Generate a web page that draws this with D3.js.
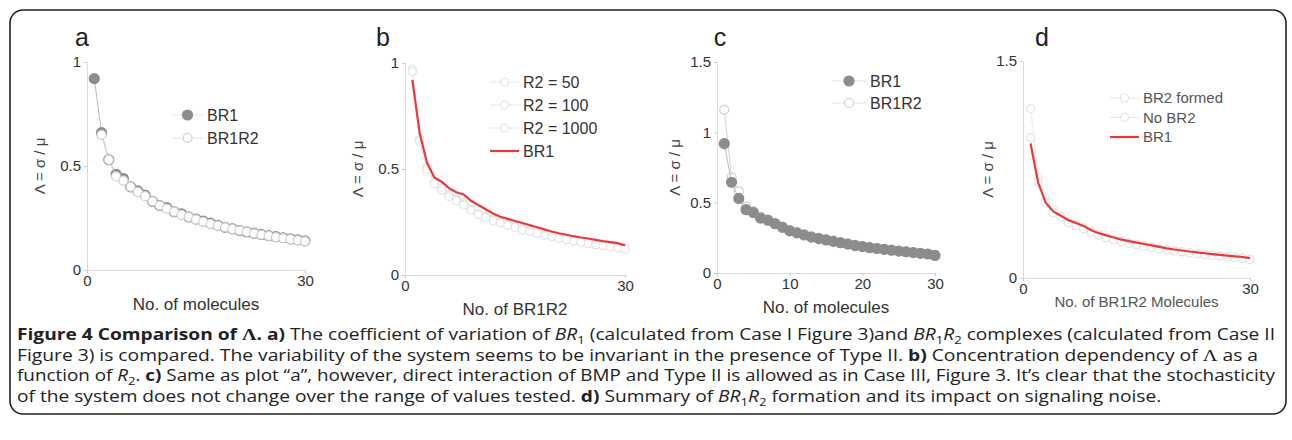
<!DOCTYPE html>
<html lang="en">
<head>
<meta charset="utf-8">
<title>Figure 4 - Comparison of Lambda</title>
<script src="https://d3js.org/d3.v7.min.js"></script>
<style>
  body { margin: 0; background: #fff; }
  .cap { font-family: "Open Sans", "Noto Sans", sans-serif; font-size: 16px; fill: #222; }
</style>
</head>
<body>
<div id="fig"></div>
<script>

// x values (number of molecules)
var counts = [1,2,3,4,5,6,7,8,9,10,11,12,13,14,15,16,17,18,19,20,21,22,23,24,25,26,27,28,29,30];

// panel a
var aBR1   = [0.92,0.66,0.53,0.46,0.44,0.40,0.38,0.36,0.33,0.31,0.30,0.28,0.27,0.255,0.245,0.235,0.225,0.215,0.205,0.198,0.19,0.183,0.177,0.171,0.165,0.16,0.155,0.15,0.145,0.14];
var aBR1R2 = [null,0.65,0.53,0.45,0.43,0.40,0.375,0.355,0.33,0.31,0.295,0.28,0.265,0.255,0.243,0.232,0.222,0.213,0.205,0.197,0.19,0.183,0.176,0.17,0.164,0.158,0.153,0.148,0.143,0.138];

// panel b
var bR2_50   = [0.97,0.64,0.51,0.44,0.41,0.38,0.36,0.34,0.31,0.29,0.28,0.265,0.25,0.24,0.23,0.22,0.21,0.2,0.19,0.183,0.176,0.17,0.163,0.157,0.151,0.145,0.14,0.135,0.13,0.125];
var bR2_100  = [0.96,0.64,0.51,0.44,0.41,0.38,0.355,0.335,0.31,0.29,0.275,0.26,0.248,0.237,0.227,0.217,0.207,0.198,0.19,0.182,0.175,0.168,0.162,0.156,0.15,0.144,0.139,0.134,0.129,0.124];
var bR2_1000 = [0.96,0.63,0.5,0.43,0.4,0.37,0.35,0.33,0.305,0.285,0.27,0.256,0.245,0.234,0.224,0.214,0.205,0.196,0.188,0.18,0.173,0.166,0.16,0.154,0.148,0.143,0.138,0.133,0.128,0.122];
var bBR1     = [0.92,0.67,0.53,0.46,0.44,0.41,0.39,0.38,0.35,0.33,0.31,0.29,0.275,0.265,0.255,0.245,0.235,0.225,0.215,0.205,0.197,0.19,0.183,0.177,0.172,0.166,0.16,0.155,0.15,0.14];

// panel c
var cBR1   = [0.92,0.645,0.53,0.45,0.43,0.39,0.375,0.35,0.325,0.30,0.285,0.27,0.255,0.245,0.235,0.225,0.215,0.205,0.195,0.188,0.18,0.174,0.168,0.162,0.156,0.151,0.145,0.14,0.135,0.125];
var cBR1R2 = [1.16,0.68,0.58,0.47,0.44,0.40,0.38,0.355,0.33,0.305,0.29,0.275,0.26,0.25,0.24,0.23,0.22,0.21,0.2,0.19,0.183,0.177,0.17,0.164,0.158,0.153,0.147,0.142,0.137,0.128];

// panel d
var dBR2formed = [1.17,0.70,0.55,0.47,0.43,0.39,0.37,0.35,0.32,0.30,0.28,0.265,0.255,0.245,0.235,0.225,0.215,0.205,0.197,0.19,0.183,0.176,0.17,0.164,0.158,0.153,0.148,0.143,0.138,0.13];
var dNoBR2     = [0.97,0.66,0.52,0.45,0.42,0.38,0.36,0.34,0.315,0.295,0.28,0.265,0.25,0.24,0.23,0.22,0.21,0.2,0.193,0.186,0.18,0.174,0.168,0.162,0.156,0.151,0.146,0.141,0.136,0.128];
var dBR1       = [0.93,0.66,0.52,0.46,0.43,0.40,0.38,0.36,0.33,0.31,0.295,0.28,0.265,0.255,0.245,0.235,0.225,0.215,0.205,0.197,0.19,0.183,0.177,0.171,0.165,0.16,0.155,0.15,0.145,0.138];

var yLabel = "\u039B = \u03C3 / \u03BC";

var panels = [
  { letter: "a", left: 87, right: 305, top: 62, bottom: 270, yMax: 1, yTicks: [0, 0.5, 1], xTicks: [0, 30],
    xLabel: "No. of molecules", labelX: 40, letterX: 82,
    series: [
      { name: "BR1", values: aBR1, kind: "filled" },
      { name: "BR1R2", values: aBR1R2, kind: "open" }
    ],
    legend: { x: 172, y: 115, step: 23, textX: 207 } },
  { letter: "b", left: 405, right: 625, top: 63, bottom: 275, yMax: 1, yTicks: [0, 0.5, 1], xTicks: [0, 30],
    xLabel: "No. of BR1R2", labelX: 358, letterX: 383,
    series: [
      { name: "R2 = 50", values: bR2_50, kind: "faint" },
      { name: "R2 = 100", values: bR2_100, kind: "faint" },
      { name: "R2 = 1000", values: bR2_1000, kind: "faint" },
      { name: "BR1", values: bBR1, kind: "red" }
    ],
    legend: { x: 490, y: 82, step: 23, textX: 523 } },
  { letter: "c", left: 717, right: 935, top: 62, bottom: 273, yMax: 1.5, yTicks: [0, 0.5, 1, 1.5], xTicks: [0, 10, 20, 30],
    xLabel: "No. of molecules", labelX: 675, letterX: 720,
    series: [
      { name: "BR1R2", values: cBR1R2, kind: "open" },
      { name: "BR1", values: cBR1, kind: "filled" }
    ],
    legend: { x: 832, y: 81, step: 22, textX: 870, order: [1, 0] } },
  { letter: "d", left: 1023, right: 1250, top: 61, bottom: 278, yMax: 1.5, yTicks: [0, 1.5], xTicks: [0, 30],
    xLabel: "No. of BR1R2 Molecules", labelX: 988, letterX: 1042, small: true,
    series: [
      { name: "BR2 formed", values: dBR2formed, kind: "faint" },
      { name: "No BR2", values: dNoBR2, kind: "faint" },
      { name: "BR1", values: dBR1, kind: "red" }
    ],
    legend: { x: 1110, y: 98, step: 19.5, textX: 1143 } }
];

var W = 1292, H = 440;
var svg = d3.select("#fig").append("svg")
    .attr("width", W)
    .attr("height", H)
    .style("font-family", "'Liberation Sans', Arial, sans-serif");

// outer frame
svg.append("rect")
    .attr("x", 10).attr("y", 10)
    .attr("width", 1276).attr("height", 404)
    .attr("rx", 13)
    .attr("fill", "none")
    .attr("stroke", "#222")
    .attr("stroke-width", 1.6);

var styles = {
  filled: { line: "#bdbdbd", fill: "#8c8c8c", stroke: "#8c8c8c", r: 5 },
  open:   { line: "#d4d4d4", fill: "#fff", stroke: "#cfcfcf", r: 4.5 },
  faint:  { line: "#ebebeb", fill: "#fff", stroke: "#e3e3e3", r: 4 },
  red:    { line: "#e8393b", fill: "none", stroke: "none", r: 0 }
};

panels.forEach(function(p) {
  var x = d3.scaleLinear().domain([0, 30]).range([p.left, p.right]);
  var y = d3.scaleLinear().domain([0, p.yMax]).range([p.bottom, p.top]);
  var g = svg.append("g");

  // axes
  var xAxis = g.append("g")
      .attr("transform", "translate(0," + p.bottom + ")")
      .call(d3.axisBottom(x).tickValues(p.xTicks).tickSize(3).tickPadding(2).tickFormat(d3.format("d")));
  var yAxis = g.append("g")
      .attr("transform", "translate(" + p.left + ",0)")
      .call(d3.axisLeft(y).tickValues(p.yTicks).tickSize(3).tickPadding(3).tickFormat(function(d) { return d; }));
  [xAxis, yAxis].forEach(function(a) {
    a.select(".domain").attr("stroke", "#dcdcdc");
    a.selectAll(".tick line").attr("stroke", "#c8c8c8");
    a.selectAll(".tick text").attr("font-size", 15).attr("fill", "#333");
  });

  // axis titles
  g.append("text")
      .attr("x", (p.left + p.right) / 2)
      .attr("y", p.bottom + (p.small ? 29 : 40))
      .attr("text-anchor", "middle")
      .attr("font-size", p.small ? 15 : 17)
      .attr("fill", p.small ? "#555" : "#333")
      .text(p.xLabel);
  g.append("text")
      .attr("transform", "translate(" + p.labelX + "," + ((p.top + p.bottom) / 2) + ") rotate(-90)")
      .attr("text-anchor", "middle")
      .attr("dy", "0.35em")
      .attr("font-size", 15)
      .attr("fill", "#444")
      .text(yLabel);

  // panel letter
  g.append("text")
      .attr("x", p.letterX)
      .attr("y", 46)
      .attr("text-anchor", "middle")
      .attr("font-size", 25)
      .attr("fill", "#222")
      .text(p.letter);

  var line = d3.line()
      .defined(function(d) { return d.v != null; })
      .x(function(d) { return x(d.n); })
      .y(function(d) { return y(d.v); });

  p.series.forEach(function(s) {
    var st = styles[s.kind];
    var pts = counts.map(function(n, i) { return { n: n, v: s.values[i] }; });
    g.append("path")
        .datum(pts)
        .attr("fill", "none")
        .attr("stroke", st.line)
        .attr("stroke-width", s.kind == "red" ? 2.2 : 1)
        .attr("d", line);
    if (st.r > 0) {
      g.append("g").selectAll("circle")
        .data(pts.filter(function(d) { return d.v != null; }))
        .enter().append("circle")
          .attr("cx", function(d) { return x(d.n); })
          .attr("cy", function(d) { return y(d.v); })
          .attr("r", st.r)
          .attr("fill", st.fill)
          .attr("stroke", st.stroke)
          .attr("stroke-width", 1.2);
    }
  });

  // legend
  var order = p.legend.order || p.series.map(function(s, i) { return i; });
  order.forEach(function(idx, k) {
    var s = p.series[idx], st = styles[s.kind];
    var ly = p.legend.y + k * p.legend.step;
    g.append("line")
        .attr("x1", p.legend.x).attr("x2", p.legend.textX - 4)
        .attr("y1", ly).attr("y2", ly)
        .attr("stroke", s.kind == "red" ? st.line : "#e6e6e6")
        .attr("stroke-width", s.kind == "red" ? 2.2 : 1);
    if (st.r > 0) {
      g.append("circle")
          .attr("cx", (p.legend.x + p.legend.textX - 4) / 2)
          .attr("cy", ly)
          .attr("r", st.r)
          .attr("fill", st.fill)
          .attr("stroke", st.stroke)
          .attr("stroke-width", 1.2);
    }
    g.append("text")
        .attr("x", p.legend.textX)
        .attr("y", ly)
        .attr("dy", "0.35em")
        .attr("font-size", p.small ? 15 : 16)
        .attr("fill", p.small ? "#555" : "#333")
        .text(s.name);
  });
});

// caption: each line is a list of [text, style] pieces
var captionLines = [
  [["Figure 4 Comparison of ", "b"], ["\u039B", "bs"], [". a)", "b"], [" The coefficient of variation of ", ""], ["BR", "i"], ["1", "sub"],
   [" (calculated from Case I Figure 3)and ", ""], ["BR", "i"], ["1", "sub"], ["R", "i"], ["2", "sub"], [" complexes (calculated from Case II", ""]],
  [["Figure 3) is compared. The variability of the system seems to be invariant in the presence of Type II. ", ""], ["b)", "b"],
   [" Concentration dependency of ", ""], ["\u039B", "s"], [" as a", ""]],
  [["function of ", ""], ["R", "i"], ["2", "sub"], [". ", ""], ["c)", "b"],
   [" Same as plot \u201Ca\u201D, however, direct interaction of BMP and Type II is allowed as in Case III, Figure 3. It\u2019s clear that the stochasticity", ""]],
  [["of the system does not change over the range of values tested. ", ""], ["d)", "b"], [" Summary of ", ""], ["BR", "i"], ["1", "sub"],
   ["R", "i"], ["2", "sub"], [" formation and its impact on signaling noise.", ""]]
];
var captionY = [340, 360.5, 381, 401.5];
var lineEnds = [1275, 1258, 1275, null];   // where the full lines stop in the figure

var scale1 = null;
captionLines.forEach(function(pieces, li) {
  var t = svg.append("text").attr("class", "cap").attr("x", 17).attr("y", captionY[li]);
  var prevSub = false;
  pieces.forEach(function(pc) {
    var ts = t.append("tspan").text(pc[0]);
    if (pc[1] == "b" || pc[1] == "bs") ts.attr("font-weight", "bold");
    if (pc[1] == "i") ts.attr("font-style", "italic");
    if (pc[1] == "s" || pc[1] == "bs") ts.attr("font-family", "'Liberation Serif', serif").attr("font-size", 17);
    if (pc[1] == "sub") ts.attr("font-size", 11).attr("dy", 4);
    else if (prevSub) ts.attr("dy", -4);
    prevSub = pc[1] == "sub";
  });
  var natural = t.node().getComputedTextLength();
  var target = lineEnds[li] ? lineEnds[li] - 17 : natural * scale1;
  if (scale1 == null) scale1 = target / natural;
  t.attr("textLength", target).attr("lengthAdjust", "spacingAndGlyphs");
});

</script>
</body>
</html>
